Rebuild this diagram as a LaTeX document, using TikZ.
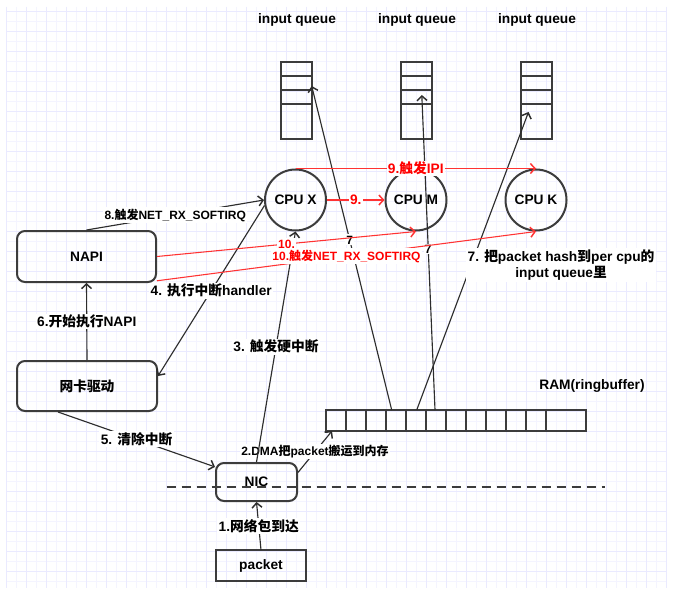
\documentclass[tikz,border=0pt]{standalone}
\usepackage{fontspec}
\setmainfont{Liberation Sans}
\newfontfamily\cjk{Noto Sans CJK SC}
\usetikzlibrary{arrows.meta,calc}
\definecolor{gridminor}{RGB}{244,244,255}
\definecolor{gridmajor}{RGB}{234,234,255}
\definecolor{ink}{RGB}{45,45,45}
\definecolor{boxc}{RGB}{60,60,60}
\definecolor{redl}{RGB}{255,51,51}
\definecolor{redt}{RGB}{255,0,0}
\newcommand\zh[1]{{\cjk #1}}
\newcommand\fbig{\fontsize{10.3}{12.4}\selectfont\bfseries}
\newcommand\fsmall{\fontsize{9}{10.8}\selectfont\bfseries}
\begin{document}
\begin{tikzpicture}[x=0.75pt,y=-0.75pt,
  box/.style={draw=boxc,line width=1.5pt,rounded corners=6pt,inner sep=0pt,font=\fbig},
  sqbox/.style={draw=boxc,line width=1.5pt,inner sep=0pt,outer sep=0pt,font=\fbig},
  cpu/.style={circle,draw=boxc,line width=1.5pt,minimum size=61*0.75pt,inner sep=0pt,font=\fbig},
  conn/.style={draw=ink,line width=0.85pt,-{Straight Barb[length=3.5pt,width=7.5pt,line width=1.1pt]}},
  rconn/.style={draw=redl,line width=0.8pt,-{Straight Barb[length=3.5pt,width=7.5pt,line width=1.1pt]}},
  lbl/.style={fill=white,inner sep=1pt,font=\fbig,text=black},
  lbls/.style={fill=white,inner sep=1pt,font=\fsmall,text=black},
  rlbl/.style={fill=white,inner sep=1pt,font=\fbig,text=redt},
  rlbls/.style={fill=white,inner sep=1pt,font=\fsmall,text=redt},
  ttl/.style={font=\fbig,inner sep=0pt}]
\useasboundingbox (0,0) rectangle (673,599);
\fill[white] (0,0) rectangle (673,599);
% grid
\foreach \xx in {6.7,16.7,...,667} \draw[gridminor,line width=0.75pt] (\xx,6.7) -- (\xx,588);
\foreach \yy in {11.7,21.7,...,582} \draw[gridminor,line width=0.75pt] (6.7,\yy) -- (666.7,\yy);
\foreach \xx in {6.7,26.7,...,667} \draw[gridmajor,line width=0.75pt] (\xx,6.7) -- (\xx,588);
\foreach \yy in {11.7,31.7,...,582} \draw[gridmajor,line width=0.75pt] (6.7,\yy) -- (666.7,\yy);

% titles
\node[ttl] (iq1) at (297,20) {input queue};
\node[ttl] (iq2) at (417,20) {input queue};
\node[ttl] (iq3) at (537,20) {input queue};
\node[ttl] (ramlbl) at (592,386) {RAM(ringbuffer)};

% queues
\node[sqbox,minimum width=31*0.75pt,minimum height=77*0.75pt] (q1) at (296.5,100.5) {};
\node[sqbox,minimum width=31*0.75pt,minimum height=77*0.75pt] (q2) at (416.5,100.5) {};
\node[sqbox,minimum width=31*0.75pt,minimum height=77*0.75pt] (q3) at (536,100.5) {};
\foreach \q in {q1,q2,q3}
  \foreach \d in {14,28,42}
    \draw[boxc,line width=1.5pt] ($(\q.north west)+(0,\d)$) -- ($(\q.north east)+(0,\d)$);

% cpus
\node[cpu] (cpux) at (295.5,200) {CPU X};
\node[cpu] (cpum) at (416,200) {CPU M};
\node[cpu] (cpuk) at (536,200) {CPU K};

% boxes
\node[box,minimum width=139*0.75pt,minimum height=51*0.75pt] (napi) at (86.5,256.5) {NAPI};
\node[box,minimum width=140*0.75pt,minimum height=50*0.75pt] (drv) at (87,386) {\zh{网卡驱动}};
\node[box,minimum width=81*0.75pt,minimum height=38*0.75pt] (nic) at (256.5,482) {NIC};
\node[sqbox,minimum width=90*0.75pt,minimum height=31*0.75pt] (pkt) at (261,565.5) {packet};

% ring buffer
\node[sqbox,minimum width=260*0.75pt,minimum height=21*0.75pt] (ram) at (456,420.5) {};
\foreach \d in {20,40,...,220}
  \draw[boxc,line width=1.5pt] ($(ram.north west)+(\d,0)$) -- ($(ram.south west)+(\d,0)$);

% dashed boundary
\coordinate (dl) at (166.7,487.3);
\coordinate (dr) at (605,487.3);
\draw[boxc,line width=1.5pt,dash pattern=on 6.75pt off 4.5pt] (dl) -- (dr);

% helper coordinates
\coordinate (r1) at ($(ram.north west)+(65.7,0)$);
\coordinate (r2) at ($(ram.north west)+(90.7,0)$);
\coordinate (r3) at ($(ram.north west)+(109,0)$);
\coordinate (t1) at ($(q1.north west)+(30.7,24)$);
\coordinate (t2) at ($(q2.north west)+(20.8,33)$);
\coordinate (t3) at ($(q3.north west)+(8,50)$);
\coordinate (d5) at ($(drv.south)+(-29,0)$);
\coordinate (ramin) at ($(ram.south west)+(6,0)$);

% black connectors
\draw[conn] (pkt.north) -- node[lbl]{1.\zh{网络包到达}} (nic.south);
\draw[conn] (nic.13) -- node[lbls]{2.DMA\zh{把}packet\zh{搬运到内存}} (ramin);
\draw[conn] (nic.north) -- node[lbl]{3. \zh{触发硬中断}} (cpux.south);
\draw[conn] (cpux.190) -- node[lbl]{4. \zh{执行中断}handler} (drv.8);
\draw[conn] (d5) -- node[lbl]{5. \zh{清除中断}} (nic.160);
\draw[conn] (drv.north) -- node[lbl]{6.\zh{开始执行}NAPI} (napi.south);
\draw[conn] (r1) -- node[pos=0.525,lbls]{7} (t1);
\draw[conn] (r2) -- node[pos=0.487,lbl,anchor=west,xshift=-4pt,align=center]{7. \zh{把}packet hash\zh{到}per cpu\zh{的}\\input queue\zh{里}} (t3);
\draw[conn] (r3) -- node[pos=0.511,lbls]{7} (t2);
\draw[conn] (napi.north) -- node[lbls]{8.\zh{触发}NET\_RX\_SOFTIRQ} (cpux.west);

% red connectors
\draw[rconn] (cpux.east) -- node[rlbl]{9.} (cpum.west);
\draw[rconn] (cpux.north) -- node[rlbl]{9.\zh{触发}IPI} (cpuk.north);
\draw[rconn] (napi.east) -- node[rlbls]{10.} (cpum.south);
\draw[rconn] (napi.-19) -- node[rlbls]{10.\zh{触发}NET\_RX\_SOFTIRQ} (cpuk.south);
\end{tikzpicture}
\end{document}
